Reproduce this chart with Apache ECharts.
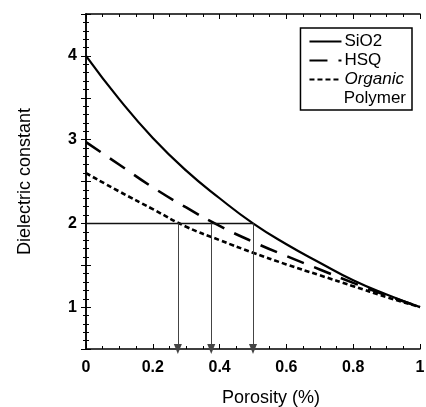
<!DOCTYPE html>
<html>
<head>
<meta charset="utf-8">
<script src="https://cdn.jsdelivr.net/npm/echarts@6/dist/echarts.min.js"></script>
<style>
  html, body { margin: 0; padding: 0; background: #fff; }
  #chart { width: 426px; height: 407px; }
</style>
</head>
<body>
<div id="chart"></div>
<script>
// porosity (fraction) and dielectric constant
var porosity = [0, 0.1, 0.2, 0.3, 0.4, 0.5, 0.6, 0.7, 0.8, 0.9, 1.0];
var sio2    = [4.0, 3.48, 3.02, 2.63, 2.30, 2.0, 1.75, 1.53, 1.32, 1.15, 1.0];
var hsq     = [2.97, 2.70, 2.43, 2.19, 1.97, 1.78, 1.61, 1.45, 1.29, 1.14, 1.0];
var organic = [2.6, 2.38, 2.17, 1.96, 1.80, 1.65, 1.51, 1.38, 1.25, 1.12, 1.0];

var targetK = 2;
var guideX = [0, 0.5];
var arrowX = [0.275, 0.375, 0.5];
var arrowEnd = 0.5;

var xTicks = ['0', '0.2', '0.4', '0.6', '0.8', '1'];
var yTicks = [1, 2, 3, 4];

var FONT = 'Liberation Sans';

function pairs(xs, ys) {
    var out = [];
    for (var i = 0; i < xs.length; i++) out.push([xs[i], ys[i]]);
    return out;
}

var chart = echarts.init(document.getElementById('chart'));

var arrowLines = arrowX.map(function (x) {
    return [{coord: [x, targetK]}, {coord: [x, arrowEnd]}];
});

// box-style axes: ticks inside on all four sides
function boxAxis(extra) {
    var a = {
        type: 'value',
        axisLine: {lineStyle: {color: '#000', width: 1.5}},
        axisTick: {inside: true, length: 5, lineStyle: {color: '#000'}},
        minorTick: {show: true, length: 3, lineStyle: {color: '#000'}},
        splitLine: {show: false},
        axisLabel: {show: false}
    };
    for (var k in extra) a[k] = extra[k];
    return a;
}

var option = {
    animation: false,
    textStyle: {fontFamily: FONT},
    grid: {left: 86, right: 6, top: 14, bottom: 58, outerBoundsMode: 'none', containLabel: false},
    legend: {
        right: 14,
        top: 28,
        orient: 'vertical',
        data: ['SiO2', 'HSQ', 'Organic'],
        itemWidth: 32,
        itemHeight: 12,
        itemGap: 2,
        padding: [5, 8, 22, 8],
        borderColor: '#000',
        borderWidth: 1.5,
        backgroundColor: '#fff',
        itemStyle: {opacity: 0},
        textStyle: {
            fontSize: 17, color: '#000', fontFamily: FONT, padding: [0, 0, 0, -2],
            rich: {i: {fontStyle: 'italic', fontSize: 17, fontFamily: FONT, color: '#000'}}
        },
        formatter: function (name) {
            return name === 'Organic' ? '{i|Organic}' : name;
        }
    },
    graphic: [{
        type: 'text',
        right: 20,
        top: 90,
        z: 100,
        style: {text: 'Polymer', font: '17px "Liberation Sans"', fill: '#000'}
    }],
    xAxis: [
        boxAxis({
            min: 0, max: 1, interval: 0.2,
            minorTick: {show: true, splitNumber: 4, length: 3, lineStyle: {color: '#000'}},
            name: 'Porosity (%)',
            nameLocation: 'middle',
            nameGap: 40,
            nameTextStyle: {fontSize: 18, color: '#000', padding: [0, 0, 0, 36]},
            axisLabel: {
                show: true, fontSize: 16, fontWeight: 'bold', color: '#000', margin: 11,
                formatter: function (v) {
                    var s = String(Math.round(v * 10) / 10);
                    return xTicks.indexOf(s) >= 0 ? s : '';
                }
            }
        }),
        boxAxis({
            position: 'top', min: 0, max: 1, interval: 0.2,
            minorTick: {show: true, splitNumber: 4, length: 3, lineStyle: {color: '#000'}}
        })
    ],
    yAxis: [
        boxAxis({
            min: 0.5, max: 4.5, interval: 0.5,
            minorTick: {show: true, splitNumber: 5, length: 3, lineStyle: {color: '#000'}},
            name: 'Dielectric constant',
            nameLocation: 'middle',
            nameGap: 52,
            nameTextStyle: {fontSize: 18, color: '#000'},
            axisLabel: {
                show: true, fontSize: 16, fontWeight: 'bold', color: '#000', margin: 9,
                formatter: function (v) {
                    return yTicks.indexOf(v) >= 0 ? String(v) : '';
                }
            }
        }),
        boxAxis({
            position: 'right', min: 0.5, max: 4.5, interval: 0.5,
            minorTick: {show: true, splitNumber: 5, length: 3, lineStyle: {color: '#000'}}
        })
    ],
    series: [
        {
            name: 'SiO2',
            type: 'line',
            smooth: true,
            symbol: 'none',
            data: pairs(porosity, sio2),
            lineStyle: {color: '#000', width: 2.2},
            itemStyle: {color: '#000'}
        },
        {
            name: 'HSQ',
            type: 'line',
            smooth: true,
            symbol: 'none',
            data: pairs(porosity, hsq),
            lineStyle: {color: '#000', width: 2.6, type: [18, 11]},
            itemStyle: {color: '#000'}
        },
        {
            name: 'Organic',
            type: 'line',
            smooth: true,
            symbol: 'none',
            data: pairs(porosity, organic),
            lineStyle: {color: '#000', width: 2.6, type: [5, 3]},
            itemStyle: {color: '#000'}
        },
        {
            name: 'guide',
            type: 'line',
            symbol: 'none',
            data: pairs(guideX, [targetK, targetK]),
            lineStyle: {color: '#111', width: 1.5},
            markLine: {
                silent: true,
                symbol: ['none', 'triangle'],
                symbolSize: [8, 10],
                symbolRotate: 180,
                label: {show: false},
                lineStyle: {color: '#444', width: 1, type: 'solid'},
                data: arrowLines
            }
        }
    ]
};
chart.setOption(option);
</script>
</body>
</html>
